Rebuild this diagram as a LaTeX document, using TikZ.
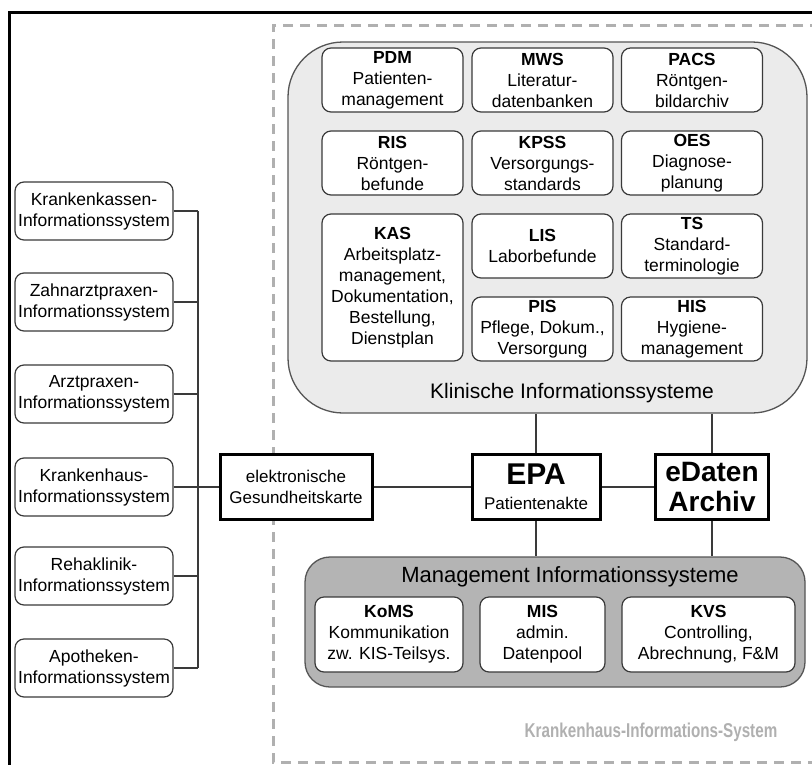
\documentclass[tikz,border=0pt]{standalone}
\usepackage{fontspec}
\setmainfont{Liberation Sans}
\definecolor{linegray}{HTML}{3A3A3A}
\definecolor{framegray}{HTML}{555555}
\definecolor{klinfill}{HTML}{EBEBEB}
\definecolor{mgmtfill}{HTML}{B4B4B4}
\definecolor{dashgray}{HTML}{B0B0B0}
\begin{document}
\begin{tikzpicture}[x=1pt,y=-1pt,
  sub/.style={draw=linegray, line width=1.2pt, rounded corners=9pt, fill=white,
    align=center, inner sep=0pt, font=\fontsize{17.5}{21}\selectfont,
    minimum width=141pt, minimum height=64pt},
  ext/.style={sub, minimum width=158pt, minimum height=58pt},
  hub/.style={draw=black, line width=3pt, fill=white, align=center,
    inner sep=0pt, minimum height=65pt},
  link/.style={draw=linegray, line width=1.3pt},
  group/.style={draw=framegray, line width=1.3pt, inner sep=0pt}
]
\useasboundingbox (0,0) rectangle (812,764);
\clip (0,0) rectangle (812,764);
\fill[white] (0,0) rectangle (812,764);

% outer frame and hospital boundary
\draw[line width=3pt] (9,770) -- (9,12) -- (820,12);
\draw[dashgray, line width=3pt, dash pattern=on 10pt off 7pt]
  (820,25) -- (273,25) -- (273,762) -- (820,762);
\node[text=dashgray, font=\fontsize{20}{23}\selectfont\bfseries] (kis) at (651,732)
  {\scalebox{0.76}[1]{Krankenhaus-Informations-System}};

% clinical systems
\node[group, fill=klinfill, rounded corners=55pt, minimum width=519pt, minimum height=371pt]
  (klin) at (547.5,227.5) {};
\node[font=\fontsize{21}{25}\selectfont] (klintitle) at (572,393) {Klinische Informationssysteme};

\node[sub] (pdm)  at (392.5,80)  {\textbf{PDM}\\Patienten-\\management};
\node[sub] (mws)  at (542.5,80)  {\textbf{MWS}\\Literatur-\\datenbanken};
\node[sub] (pacs) at (692,80)    {\textbf{PACS}\\Röntgen-\\bildarchiv};
\node[sub] (ris)  at (392.5,163) {\textbf{RIS}\\Röntgen-\\befunde};
\node[sub] (kpss) at (542.5,163) {\textbf{KPSS}\\Versorgungs-\\standards};
\node[sub] (oes)  at (692,163)   {\textbf{OES}\\Diagnose-\\planung};
\node[sub, minimum height=147pt] (kas) at (392.5,287.5)
  {\textbf{KAS}\\Arbeitsplatz-\\management,\\Dokumentation,\\Bestellung,\\Dienstplan};
\node[sub] (lis)  at (542.5,246) {\textbf{LIS}\\Laborbefunde};
\node[sub] (ts)   at (692,246)   {\textbf{TS}\\Standard-\\terminologie};
\node[sub] (pis)  at (542.5,329) {\textbf{PIS}\\Pflege, Dokum.,\\Versorgung};
\node[sub] (his)  at (692,329)   {\textbf{HIS}\\Hygiene-\\management};

% management systems
\node[group, fill=mgmtfill, rounded corners=25pt, minimum width=500pt, minimum height=130pt]
  (mgmt) at (555,622) {};
\node[font=\fontsize{22}{26}\selectfont] (mgmttitle) at (570,577) {Management Informationssysteme};
\node[sub, minimum width=148pt, minimum height=75pt] (koms) at (389,634.5)
  {\textbf{KoMS}\\Kommunikation\\zw. KIS-Teilsys.};
\node[sub, minimum width=125pt, minimum height=75pt] (mis) at (542.5,634.5)
  {\textbf{MIS}\\admin.\\Datenpool};
\node[sub, minimum width=173pt, minimum height=75pt] (kvs) at (708.5,634.5)
  {\textbf{KVS}\\Controlling,\\Abrechnung, F\&M};

% central hubs
\node[hub, minimum width=152pt, font=\fontsize{17}{21}\selectfont] (egk) at (296,487)
  {elektronische\\Gesundheitskarte};
\node[hub, minimum width=128pt, font=\fontsize{17}{25}\selectfont] (epa) at (536,487)
  {{\fontsize{30}{30}\selectfont\bfseries EPA}\\Patientenakte};
\node[hub, minimum width=113pt, font=\fontsize{28}{30}\selectfont\bfseries] (eda) at (712,487)
  {eDaten\\Archiv};

% external systems
\node[ext] (k1) at (94,211) {Krankenkassen-\\Informationssystem};
\node[ext] (k2) at (94,302) {Zahnarztpraxen-\\Informationssystem};
\node[ext] (k3) at (94,394) {Arztpraxen-\\Informationssystem};
\node[ext] (k4) at (94,487) {Krankenhaus-\\Informationssystem};
\node[ext] (k5) at (94,576) {Rehaklinik-\\Informationssystem};
\node[ext] (k6) at (94,668) {Apotheken-\\Informationssystem};

\coordinate (b1) at (198,211);
\coordinate (b2) at (198,302);
\coordinate (b3) at (198,394);
\coordinate (b4) at (198,487);
\coordinate (b5) at (198,576);
\coordinate (b6) at (198,668);

% connectors
\draw[link] (b1) -- (b6);
\foreach \i in {1,...,6} \draw[link] (k\i.east) -- (b\i);
\draw[link] (b4) -- (egk.west);
\draw[link] (egk.east) -- (epa.west);
\draw[link] (epa.east) -- (eda.west);
\draw[link] (epa.north) -- (epa.north |- klin.south);
\draw[link] (eda.north) -- (eda.north |- klin.south);
\draw[link] (epa.south) -- (epa.south |- mgmt.north);
\draw[link] (eda.south) -- (eda.south |- mgmt.north);
\end{tikzpicture}
\end{document}
